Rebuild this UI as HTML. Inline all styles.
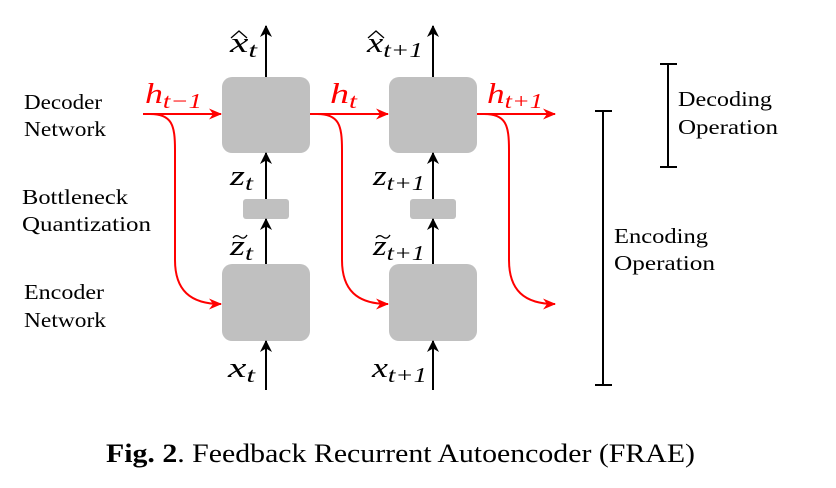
<!DOCTYPE html>
<html><head><style>body{margin:0;background:#fff}svg{display:block}</style></head><body>
<svg width="836" height="488" viewBox="0 0 836 488" xmlns="http://www.w3.org/2000/svg" font-family="'Liberation Serif', serif">
<defs>
<marker id="ab" markerWidth="12" markerHeight="12" refX="11" refY="6" orient="auto" markerUnits="userSpaceOnUse"><path d="M0,0 L12,6 L0,12 L3.5,6 Z" fill="#000"/></marker>
<marker id="ar" markerWidth="13" markerHeight="11" refX="12" refY="5.5" orient="auto" markerUnits="userSpaceOnUse"><path d="M0,0 L13,5.5 L0,11 L4,5.5 Z" fill="#f00"/></marker>
</defs>
<g fill="#c0c0c0">
<rect x="222" y="77" width="88" height="76" rx="10"/>
<rect x="389" y="77" width="88" height="76" rx="10"/>
<rect x="222" y="264" width="88" height="77" rx="10"/>
<rect x="389" y="264" width="88" height="77" rx="10"/>
<rect x="243" y="199" width="46" height="20" rx="3"/>
<rect x="410" y="199" width="46" height="20" rx="3"/>
</g>
<g stroke="#000" stroke-width="2" fill="none" marker-end="url(#ab)">
<line x1="266" y1="77" x2="266" y2="26"/>
<line x1="433" y1="77" x2="433" y2="26"/>
<line x1="266" y1="199" x2="266" y2="153"/>
<line x1="433" y1="199" x2="433" y2="153"/>
<line x1="266" y1="264" x2="266" y2="219"/>
<line x1="433" y1="264" x2="433" y2="219"/>
<line x1="266" y1="390" x2="266" y2="341"/>
<line x1="433" y1="390" x2="433" y2="341"/>
</g>
<g stroke="#f00" stroke-width="2" fill="none" marker-end="url(#ar)">
<line x1="143" y1="114" x2="221" y2="114"/>
<line x1="310" y1="114" x2="388" y2="114"/>
<line x1="477" y1="114" x2="555" y2="114"/>
<path d="M150,114 C172,114 175,125 175,150 L175,260 C175,290 190,304 221,304"/>
<path d="M317,114 C339,114 342,125 342,150 L342,260 C342,290 357,304 388,304"/>
<path d="M484,114 C506,114 509,125 509,150 L509,260 C509,290 524,304 555,304"/>
</g>
<g stroke="#000" stroke-width="2">
<line x1="603" y1="111" x2="603" y2="385"/><line x1="595" y1="111" x2="612" y2="111"/><line x1="595" y1="385" x2="612" y2="385"/>
<line x1="668" y1="64" x2="668" y2="167"/><line x1="660" y1="64" x2="677" y2="64"/><line x1="660" y1="167" x2="677" y2="167"/>
</g>
<g font-size="21" fill="#000">
<text x="24" y="109" textLength="78" lengthAdjust="spacingAndGlyphs">Decoder</text><text x="24" y="136" textLength="82" lengthAdjust="spacingAndGlyphs">Network</text>
<text x="22" y="204" textLength="106" lengthAdjust="spacingAndGlyphs">Bottleneck</text><text x="22" y="231" textLength="129" lengthAdjust="spacingAndGlyphs">Quantization</text>
<text x="24" y="299" textLength="80" lengthAdjust="spacingAndGlyphs">Encoder</text><text x="24" y="327" textLength="82" lengthAdjust="spacingAndGlyphs">Network</text>
<text x="678" y="106" textLength="94" lengthAdjust="spacingAndGlyphs">Decoding</text><text x="678" y="134" textLength="100" lengthAdjust="spacingAndGlyphs">Operation</text>
<text x="614" y="243" textLength="94" lengthAdjust="spacingAndGlyphs">Encoding</text><text x="614" y="270" textLength="101" lengthAdjust="spacingAndGlyphs">Operation</text>
</g>
<g stroke="#000" stroke-width="1.3" fill="none">
<path d="M231,38 L239,31 L247,38"/>
<path d="M368,38 L376,31 L384,38"/>
<path d="M233,238 Q236,234 240,237 T247,235"/>
<path d="M376,238 Q379,234 383,237 T390,235"/>
</g>
<g font-style="italic" font-size="28" fill="#000">
<text x="230" y="52" textLength="27" lengthAdjust="spacingAndGlyphs">x<tspan font-size="21" dy="5">t</tspan></text>
<text x="367" y="52" textLength="56" lengthAdjust="spacingAndGlyphs">x<tspan font-size="21" dy="5">t+1</tspan></text>
<text x="230" y="185" textLength="23" lengthAdjust="spacingAndGlyphs">z<tspan font-size="21" dy="5">t</tspan></text>
<text x="373" y="185" textLength="52" lengthAdjust="spacingAndGlyphs">z<tspan font-size="21" dy="5">t+1</tspan></text>
<text x="230" y="255" textLength="23" lengthAdjust="spacingAndGlyphs">z<tspan font-size="21" dy="5">t</tspan></text>
<text x="373" y="255" textLength="52" lengthAdjust="spacingAndGlyphs">z<tspan font-size="21" dy="5">t+1</tspan></text>
<text x="228" y="377" textLength="27" lengthAdjust="spacingAndGlyphs">x<tspan font-size="21" dy="5">t</tspan></text>
<text x="372" y="377" textLength="55" lengthAdjust="spacingAndGlyphs">x<tspan font-size="21" dy="5">t+1</tspan></text>
</g>
<g font-style="italic" font-size="28" fill="#f00">
<text x="145" y="103" textLength="57" lengthAdjust="spacingAndGlyphs">h<tspan font-size="21" dy="5">t−1</tspan></text>
<text x="330" y="103" textLength="27" lengthAdjust="spacingAndGlyphs">h<tspan font-size="21" dy="5">t</tspan></text>
<text x="487" y="103" textLength="56" lengthAdjust="spacingAndGlyphs">h<tspan font-size="21" dy="5">t+1</tspan></text>
</g>
<text x="106" y="462" font-size="26" fill="#000" textLength="589" lengthAdjust="spacingAndGlyphs"><tspan font-weight="bold">Fig. 2</tspan>. Feedback Recurrent Autoencoder (FRAE)</text>
</svg>
</body></html>
